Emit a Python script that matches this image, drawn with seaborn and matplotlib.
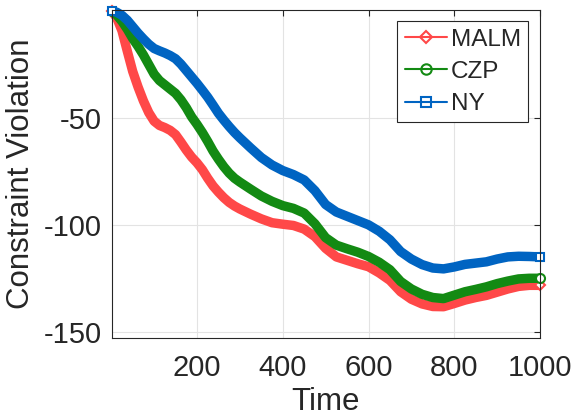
import matplotlib
matplotlib.use("Agg")
import matplotlib.pyplot as plt
from matplotlib.lines import Line2D
import seaborn as sns

sns.set_style("white")
plt.rcParams["font.family"] = ["Liberation Sans", "DejaVu Sans"]
plt.rcParams["axes.unicode_minus"] = False

# values (denser where the curves bend early on)
time = [1, 12.5, 25, 37.5, 50, 62.5, 75, 87.5, 100, 112.5, 125, 137.5, 150,
        162.5, 175, 187.5, 200, 212.5, 225, 237.5, 250, 262.5, 275, 287.5, 300,
        325, 350, 375, 400, 425, 450, 475, 500, 525, 550, 575, 600, 625, 650,
        675, 700, 725, 750, 775, 800, 825, 850, 875, 900, 925, 950, 975, 1000]
malm = [0, -3, -9.2, -18.8, -28.2, -35.5, -42, -47.5, -51.5, -53.5, -54.5, -55.8,
        -57.8, -61.3, -65, -68.3, -71, -74.2, -78.2, -81.8, -84.7, -87.3, -89.5,
        -91.2, -92.6, -95, -97.2, -99, -99.7, -100.3, -102, -105.5, -111, -115,
        -116.6, -118.2, -119.6, -122.5, -126, -131.3, -134.8, -137, -138.2,
        -138.3, -136.8, -135.2, -134, -133, -131.5, -130, -128.8, -128.3, -128.3]
czp = [0, -1.8, -4.8, -8.5, -12.8, -16.5, -20.5, -25, -29.5, -32.5, -34.5, -36.5,
       -38.5, -41.5, -45.2, -49.5, -53, -56.8, -61, -65.5, -69.3, -72.8, -75.8,
       -78.2, -80, -83.3, -86.5, -89, -91, -92.3, -94.5, -99.5, -106, -109.5,
       -111.2, -112.8, -114.8, -117.5, -121, -126.5, -130, -132.5, -134, -134.5,
       -132.9, -131.3, -130.2, -129, -127.5, -126.3, -125.3, -125, -125]
ny = [0, -0.5, -2, -4.3, -7.3, -10.3, -13, -15.5, -17.5, -18.6, -19.6, -20.8,
      -22.3, -24.8, -27.8, -30.8, -33.8, -37, -40.3, -44, -47.8, -51, -54, -56.8,
      -59.3, -64, -68.5, -72, -74.6, -76.5, -79, -84, -90.5, -94, -96, -98, -100,
      -103, -107, -112.5, -116, -118.6, -120.2, -120.6, -119.7, -118.5, -117.9,
      -117.3, -116, -115, -114.7, -114.8, -115]

series = [("MALM", malm, "#FF4848", "D", 5.5),
          ("CZP", czp, "#138A13", "o", 6.5),
          ("NY", ny, "#0064C2", "s", 6)]

fig = plt.figure(figsize=(5.71, 4.18), dpi=100)
ax = fig.add_axes([0.1956, 0.1921, 0.7501, 0.7839])

handles = []
for name, vals, col, mk, ms in series:
    sns.lineplot(x=time, y=vals, color=col, linewidth=6.8, ax=ax,
                 solid_joinstyle="round", solid_capstyle="butt", clip_on=False,
                 marker=mk, markevery=[0, -1], markersize=ms,
                 markerfacecolor="white", markeredgecolor=col, markeredgewidth=1.5)
    handles.append(Line2D([], [], color=col, lw=1.5, marker=mk, markersize=ms + 1,
                          markerfacecolor="none", markeredgewidth=1.5, label=name))

ax.set_xlim(1, 1000)
ax.set_ylim(-152.8, 0.5)
ax.set_xticks([200, 400, 600, 800, 1000])
ax.set_yticks([-150, -100, -50])
ax.grid(True, color="#E3E3E3", linewidth=0.8)
ax.tick_params(direction="in", length=4, width=0.8, colors="#262626",
               labelsize=21, top=True, right=True, pad=7)
ax.tick_params(axis="x", pad=12)
for sp in ax.spines.values():
    sp.set_color("#262626")
    sp.set_linewidth(0.8)

ax.set_xlabel("Time", fontsize=22.5, color="#262626", labelpad=3)
ax.set_ylabel("Constraint Violation", fontsize=22.5, color="#262626", labelpad=6)

leg = ax.legend(handles=handles, loc="upper right", bbox_to_anchor=(0.9727, 0.9655),
                fontsize=17.5, frameon=True, fancybox=False, framealpha=1,
                edgecolor="#262626", handlelength=1.73, handletextpad=0.17,
                labelspacing=0.42, borderpad=0.3, borderaxespad=0)
leg.get_frame().set_linewidth(0.8)
leg.set_zorder(5)

plt.savefig("out.png", dpi=100)
plt.close()
